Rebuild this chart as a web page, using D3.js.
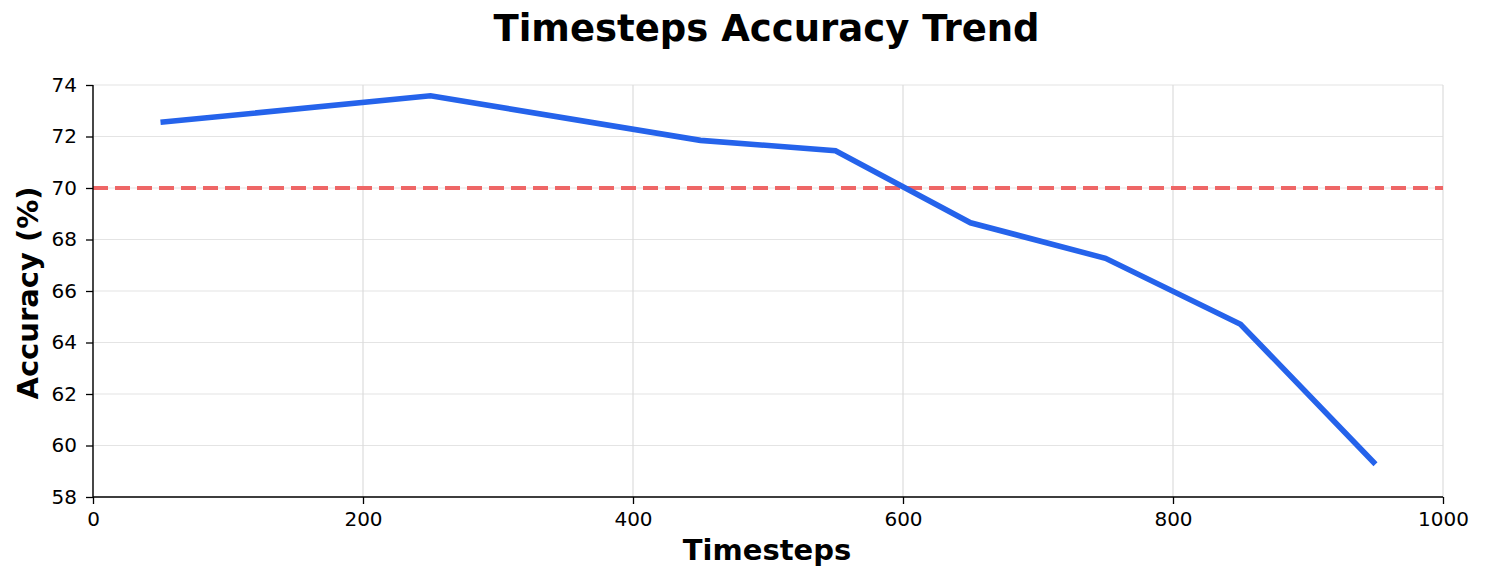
<!DOCTYPE html>
<html>
<head>
<meta charset="utf-8">
<script src="https://cdn.jsdelivr.net/npm/d3@7/dist/d3.min.js"></script>
<style>
body { margin: 0; background: #fff; }
text { font-family: "DejaVu Sans", sans-serif; }
</style>
</head>
<body>
<svg id="chart" width="1485" height="584"></svg>
<script>
const timesteps = [50, 250, 450, 550, 650, 750, 850, 950];
const accuracy = [72.55, 73.58, 71.85, 71.45, 68.65, 67.27, 64.71, 59.27];
const threshold = 70;
const xTicks = [0, 200, 400, 600, 800, 1000];
const yTicks = [58, 60, 62, 64, 66, 68, 70, 72, 74];

const svg = d3.select("#chart");
const m = { left: 93, right: 1443, top: 85, bottom: 497 };
const x = d3.scaleLinear().domain([0, 1000]).range([m.left, m.right]);
const y = d3.scaleLinear().domain([58, 74]).range([m.bottom, m.top]);

// grid
svg.append("g").selectAll("line").data(yTicks).join("line")
  .attr("x1", m.left).attr("x2", m.right)
  .attr("y1", d => y(d)).attr("y2", d => y(d))
  .attr("stroke", "#e4e4e4").attr("stroke-width", 1.2);
svg.append("g").selectAll("line").data(xTicks).join("line")
  .attr("y1", m.top).attr("y2", m.bottom)
  .attr("x1", d => x(d)).attr("x2", d => x(d))
  .attr("stroke", "#dcdcdc").attr("stroke-width", 1.2);

// threshold line
svg.append("line")
  .attr("x1", m.left).attr("x2", m.right)
  .attr("y1", y(threshold)).attr("y2", y(threshold))
  .attr("stroke", "#ee6666").attr("stroke-width", 4)
  .attr("stroke-dasharray", "15,7");

// data line
svg.append("path")
  .datum(timesteps.map((t, i) => [t, accuracy[i]]))
  .attr("fill", "none")
  .attr("stroke", "#2563eb")
  .attr("stroke-width", 5.6)
  .attr("stroke-linejoin", "miter")
  .attr("d", d3.line().x(d => x(d[0])).y(d => y(d[1])));

// axes
const xAxis = svg.append("g").attr("transform", `translate(0,${m.bottom})`)
  .call(d3.axisBottom(x).tickValues(xTicks).tickSize(7).tickPadding(7.5).tickFormat(d3.format("d")));
const yAxis = svg.append("g").attr("transform", `translate(${m.left},0)`)
  .call(d3.axisLeft(y).tickValues(yTicks).tickSize(7).tickPadding(9).tickFormat(d3.format("d")));
[xAxis, yAxis].forEach(a => {
  a.attr("font-size", null).attr("font-family", null);
  a.selectAll("text").style("font-size", "20px").attr("fill", "#000").style("font-family", "DejaVu Sans");
  a.selectAll("line").attr("stroke", "#000").attr("stroke-width", 1.3);
  a.select(".domain").attr("stroke", "#000").attr("stroke-width", 1.4);
});
xAxis.select(".domain").attr("d", `M${m.left},0H${m.right}`);
yAxis.select(".domain").attr("d", `M0,${m.bottom}V${m.top}`);

// title and labels
svg.append("text").attr("x", 766.5).attr("y", 41)
  .attr("text-anchor", "middle").style("font-size", "37px").attr("font-weight", "bold")
  .text("Timesteps Accuracy Trend");
svg.append("text").attr("x", 767).attr("y", 560)
  .attr("text-anchor", "middle").style("font-size", "29px").attr("font-weight", "bold")
  .text("Timesteps");
svg.append("text").attr("transform", `translate(38,293) rotate(-90)`)
  .attr("text-anchor", "middle").style("font-size", "29px").attr("font-weight", "bold")
  .text("Accuracy (%)");
</script>
</body>
</html>
